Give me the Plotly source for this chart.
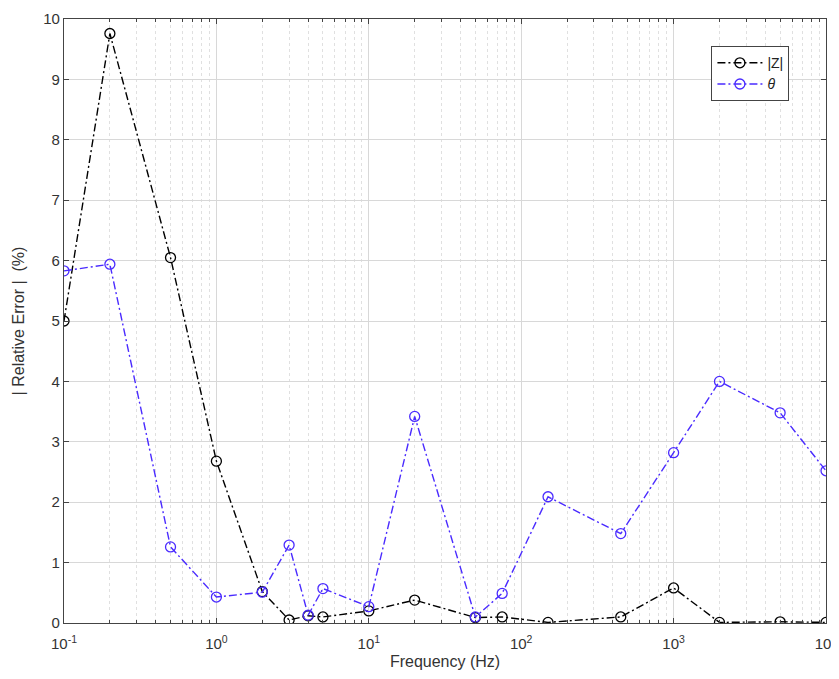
import plotly.graph_objects as go

freq = [0.1, 0.2, 0.5, 1, 2, 3, 4, 5, 10, 20, 50, 75, 150, 450, 1000, 2000, 5000, 10000]
err_z = [5.0, 9.76, 6.05, 2.68, 0.52, 0.05, 0.12, 0.10, 0.20, 0.38, 0.09, 0.10, 0.01, 0.10, 0.58, 0.01, 0.02, 0.01]
err_theta = [5.83, 5.94, 1.26, 0.43, 0.51, 1.29, 0.13, 0.57, 0.27, 3.42, 0.10, 0.49, 2.09, 1.48, 2.82, 4.00, 3.48, 2.52]

x_major = [0.1, 1, 10, 100, 1000, 10000]
x_major_text = ["10<sup>-1</sup>", "10<sup>0</sup>", "10<sup>1</sup>", "10<sup>2</sup>", "10<sup>3</sup>", "10<sup>4</sup>"]
x_minor = [m * d for d in [0.1, 1, 10, 100, 1000] for m in range(2, 10)]
y_ticks = list(range(0, 11))

blue = "#4a2bff"
dash = "8px,3px,2px,3px"
fig = go.Figure()
fig.add_trace(go.Scatter(
    x=freq, y=err_z, mode="lines+markers", name="|Z|",
    line=dict(color="black", width=1.4, dash=dash),
    marker=dict(symbol="circle-open", size=10, color="black", line=dict(width=1.3)),
))
fig.add_trace(go.Scatter(
    x=freq, y=err_theta, mode="lines+markers", name="<i>θ</i>",
    line=dict(color=blue, width=1.4, dash=dash),
    marker=dict(symbol="circle-open", size=10, color=blue, line=dict(width=1.3)),
))

axis_common = dict(
    showline=True, linecolor="#444", linewidth=1.3, mirror="allticks",
    ticks="inside", ticklen=5, tickcolor="#444",
    gridcolor="#d8d8d8", gridwidth=1, zeroline=False, automargin=False,
    tickfont=dict(family="Liberation Sans, Arial", size=15, color="#333"),
)

# page body has an 8px margin, so the figure is shrunk and margins shifted by 8px
fig.update_layout(
    width=831, height=671,
    margin=dict(l=56, r=13, t=11, b=56),
    paper_bgcolor="white", plot_bgcolor="white",
    font=dict(family="Liberation Sans, Arial", size=15, color="#333"),
    showlegend=True,
    legend=dict(
        x=0.952, y=0.955, xanchor="right", yanchor="top",
        bgcolor="white", bordercolor="#444", borderwidth=1,
        font=dict(size=14, color="#222"), tracegroupgap=0,
        itemwidth=45,
    ),
    xaxis=dict(
        type="log", range=[-1, 4], tickmode="array",
        tickvals=x_major, ticktext=x_major_text, ticklabelstandoff=7,
        title=dict(text="Frequency (Hz)", font=dict(size=16), standoff=4),
        minor=dict(tickmode="array", tickvals=x_minor, ticks="inside", ticklen=3,
                   tickcolor="#444", showgrid=True, gridcolor="#e0e0e0", griddash="dot"),
        **axis_common,
    ),
    yaxis=dict(
        range=[0, 10], tickmode="array", tickvals=y_ticks,
        title=dict(text="| Relative Error |  (%)", font=dict(size=16), standoff=14),
        **axis_common,
    ),
)

fig.write_html("out.html")
